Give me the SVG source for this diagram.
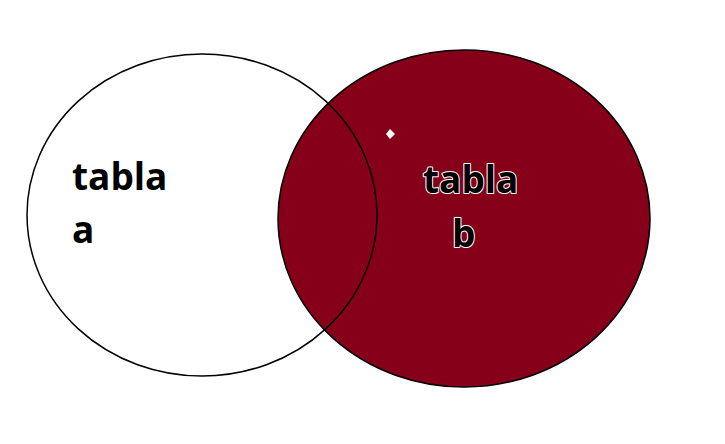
<svg xmlns="http://www.w3.org/2000/svg" width="725" height="444" viewBox="0 0 725 444">
<style>
.lbl{font-family:"Open Sans","Liberation Sans",sans-serif;font-weight:bold;font-size:37px;fill:#000}
.halo{stroke:#fff;stroke-width:2;paint-order:stroke;stroke-linejoin:round}
</style>
<rect width="725" height="444" fill="#fff"/>
<g id="set-a-fill"><ellipse cx="202" cy="215" rx="175" ry="161" fill="#fff"/></g>
<g id="set-b"><ellipse cx="464" cy="218.5" rx="186" ry="168.5" fill="#86001a" stroke="#000" stroke-width="1.5"/></g>
<g id="set-a"><ellipse cx="202" cy="215" rx="175" ry="161" fill="none" stroke="#000" stroke-width="1.5"/></g>
<polygon points="390,129 395,134 390,139 386,134" fill="#fff"/>
<g id="label-a">
<text class="lbl" x="72" y="190">tabla</text>
<text class="lbl" x="72" y="243">a</text>
</g>
<g id="label-b">
<text class="lbl halo" x="423" y="193">tabla</text>
<text class="lbl halo" x="452" y="247">b</text>
</g>
</svg>
